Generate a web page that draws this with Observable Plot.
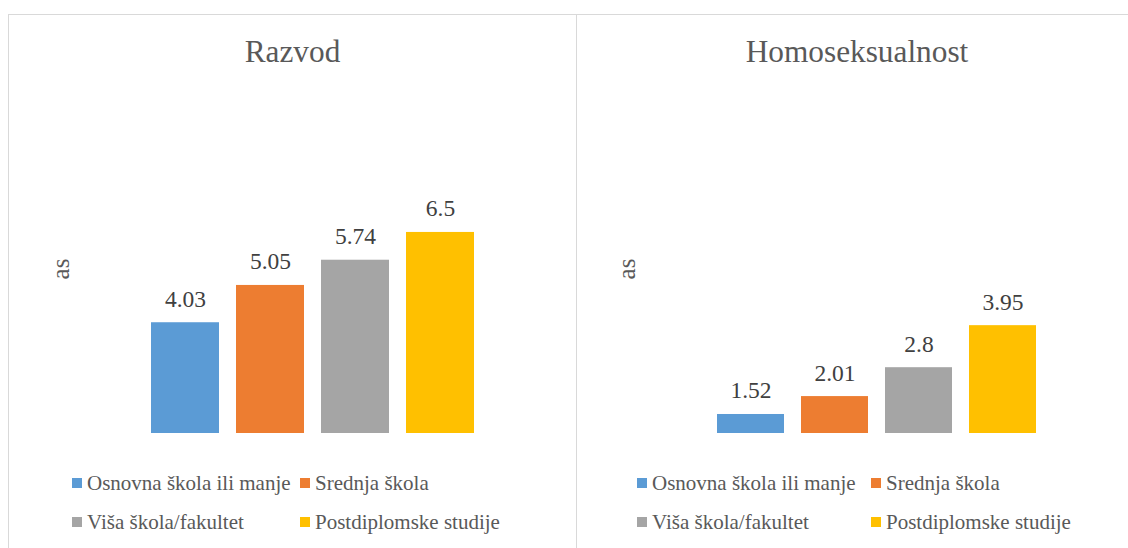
<!DOCTYPE html>
<html>
<head>
<meta charset="utf-8">
<script src="https://cdn.jsdelivr.net/npm/d3@7"></script>
<script src="https://cdn.jsdelivr.net/npm/@observablehq/plot@0.6"></script>
<style>
  html, body { margin: 0; padding: 0; background: #fff; overflow: hidden; }
  body { width: 1128px; height: 548px; position: relative; font-family: "Liberation Serif", "Times New Roman", serif; }
  .panel { position: absolute; top: 14px; height: 560px; border: 1px solid #d9d9d9; box-sizing: border-box; }
  .title { position: absolute; left: 0; right: 0; top: 17px; height: 40px; line-height: 40px; text-align: center; font-size: 31.3px; color: #595959; }
  .chart { position: absolute; left: 0; top: 75px; }
  .leg { position: absolute; display: flex; align-items: center; height: 39px; font-size: 21px; color: #595959; white-space: nowrap; }
  .sw { display: inline-block; width: 10px; height: 10px; margin-right: 5px; }
</style>
</head>
<body>
<script>
// ---- data ----
const categories = ["Osnovna škola ili manje", "Srednja škola", "Viša škola/fakultet", "Postdiplomske studije"];
const colors = ["#5b9bd5", "#ed7d31", "#a5a5a5", "#ffc000"];
const titles = ["Razvod", "Homoseksualnost"];
const razvodValues = [4.03, 5.05, 5.74, 6.5];
const homoValues = [1.52, 2.01, 2.8, 3.95];
const yAxisLabel = "as";
const yDomain = [1, 10];

// ---- layout (panel geometry only) ----
const panels = [
  {title: titles[0], values: razvodValues, left: 8, width: 569, inner: 567, ml: 132.5, mr: 93, legX: [63, 291]},
  {title: titles[1], values: homoValues, left: 576, width: 562, inner: 560, ml: 130.5, mr: 92, legX: [60, 294]}
];

for (const p of panels) {
  const div = document.createElement("div");
  div.className = "panel";
  div.style.left = p.left + "px";
  div.style.width = p.width + "px";
  document.body.appendChild(div);

  const t = document.createElement("div");
  t.className = "title";
  t.textContent = p.title;
  div.appendChild(t);

  const data = categories.map((c, i) => ({category: c, value: p.values[i]}));

  const chart = Plot.plot({
    width: p.inner,
    height: 350,
    marginLeft: p.ml,
    marginRight: p.mr,
    marginTop: 14,
    marginBottom: 7,
    style: {fontFamily: "'Liberation Serif', 'Times New Roman', serif", background: "transparent", color: "#595959", overflow: "visible"},
    x: {domain: categories, paddingInner: 0.2, paddingOuter: 0.1, axis: null},
    y: {domain: yDomain, axis: null},
    color: {domain: categories, range: colors},
    marks: [
      Plot.barY(data, {x: "category", y1: yDomain[0], y2: "value", fill: "category"}),
      Plot.text(data, {x: "category", y: "value", text: d => String(d.value), lineAnchor: "bottom", dy: -16, fontSize: 23.5, fill: "#404040"}),
      Plot.text([yAxisLabel], {frameAnchor: "left", textAnchor: "middle", dx: -81, rotate: -90, fontSize: 25, fill: "#595959"})
    ]
  });
  const wrap = document.createElement("div");
  wrap.className = "chart";
  wrap.appendChild(chart);
  div.appendChild(wrap);

  categories.forEach((c, i) => {
    const item = document.createElement("div");
    item.className = "leg";
    item.style.left = p.legX[i % 2] + "px";
    item.style.top = (448.5 + Math.floor(i / 2) * 39) + "px";
    const sw = document.createElement("span");
    sw.className = "sw";
    sw.style.background = colors[i];
    item.appendChild(sw);
    item.appendChild(document.createTextNode(c));
    div.appendChild(item);
  });
}
</script>
</body>
</html>
